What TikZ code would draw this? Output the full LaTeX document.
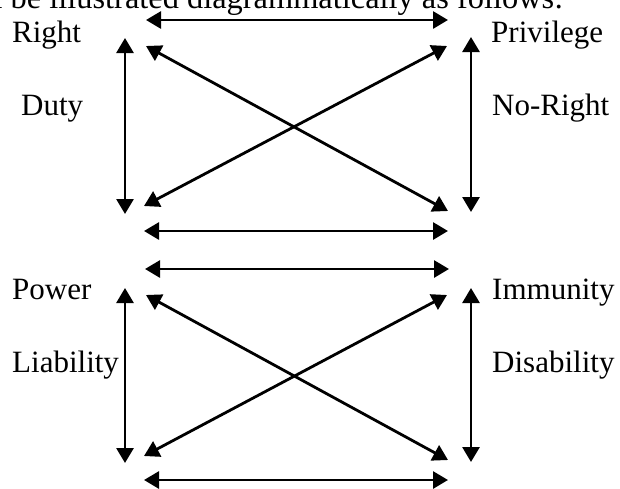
\documentclass[tikz,border=0pt]{standalone}
\usepackage{fontspec}
\setmainfont{Liberation Serif}
\usetikzlibrary{arrows.meta}
\begin{document}
\begin{tikzpicture}[x=1pt,y=-1pt,
  lbl/.style={anchor=base west,inner sep=0pt,font=\fontsize{31}{36}\selectfont},
  hdr/.style={anchor=base west,inner sep=0pt,font=\fontsize{32.4}{38}\selectfont},
  rel/.style={line width=2.8pt,{Triangle[length=15pt,width=17pt]}-{Triangle[length=15pt,width=17pt]}}]
\useasboundingbox (0,0) rectangle (620,488);
\begin{scope}
\clip (0,0) rectangle (620,488);
\node[hdr] (head) at (-6.6,8) {l be illustrated diagrammatically as follows:};
\end{scope}
% labels
\node[lbl] (right) at (12,42) {Right};
\node[lbl] (priv) at (491,42) {Privilege};
\node[lbl] (duty) at (21,115) {Duty};
\node[lbl] (noright) at (492,115) {No-Right};
\node[lbl] (power) at (12,299) {Power};
\node[lbl] (immun) at (492,299) {Immunity};
\node[lbl] (liab) at (12,372) {Liability};
\node[lbl] (disab) at (492,372) {Disability};
% upper block coordinates
\coordinate (uh1a) at (146,20);  \coordinate (uh1b) at (448,20);
\coordinate (uh2a) at (144,231); \coordinate (uh2b) at (448,231);
\coordinate (ulva) at (125,38);  \coordinate (ulvb) at (125,214);
\coordinate (urva) at (471,37);  \coordinate (urvb) at (471,212);
\coordinate (ud1a) at (146,46);  \coordinate (ud1b) at (448,211);
\coordinate (ud2a) at (144,206); \coordinate (ud2b) at (447,46);
% lower block coordinates
\coordinate (lh1a) at (145,269); \coordinate (lh1b) at (449,269);
\coordinate (lh2a) at (144,480); \coordinate (lh2b) at (448,480);
\coordinate (llva) at (125,288); \coordinate (llvb) at (125,463);
\coordinate (lrva) at (471,288); \coordinate (lrvb) at (471,462);
\coordinate (ld1a) at (146,295); \coordinate (ld1b) at (448,460);
\coordinate (ld2a) at (144,456); \coordinate (ld2b) at (447,295);
% upper arrows
\draw[rel] (uh1a) -- (uh1b);
\draw[rel] (uh2a) -- (uh2b);
\draw[rel] (ulva) -- (ulvb);
\draw[rel] (urva) -- (urvb);
\draw[rel] (ud1a) -- (ud1b);
\draw[rel] (ud2a) -- (ud2b);
% lower arrows
\draw[rel] (lh1a) -- (lh1b);
\draw[rel] (lh2a) -- (lh2b);
\draw[rel] (llva) -- (llvb);
\draw[rel] (lrva) -- (lrvb);
\draw[rel] (ld1a) -- (ld1b);
\draw[rel] (ld2a) -- (ld2b);
\end{tikzpicture}
\end{document}
